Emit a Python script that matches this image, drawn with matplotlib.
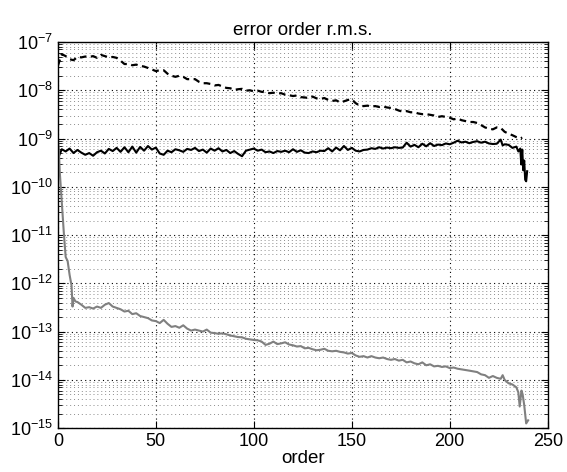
import numpy as np
import matplotlib
matplotlib.use("Agg")
import matplotlib.pyplot as plt
from matplotlib.ticker import FixedLocator, LogLocator, NullFormatter, MultipleLocator

plt.rcParams['font.family'] = ['Liberation Sans', 'DejaVu Sans']
plt.rcParams['mathtext.fontset'] = 'custom'
plt.rcParams['mathtext.rm'] = 'Liberation Sans'
plt.rcParams['mathtext.it'] = 'Liberation Sans:italic'

# dashed black curve
order_dash = [0, 2, 4, 6, 8, 10, 12, 14, 16, 18, 20, 22, 24, 26, 28, 30, 32, 34, 36, 38,
              40, 42, 44, 46, 48, 50, 52, 54, 56, 58, 60, 62, 64, 66, 68, 70, 72, 74, 76, 78,
              80, 82, 84, 86, 88, 90, 92, 94, 96, 98, 100, 102, 104, 106, 108, 110, 112, 114, 116, 118,
              120, 122, 124, 126, 128, 130, 132, 134, 136, 138, 140, 142, 144, 146, 148, 150, 152, 154, 156, 158,
              160, 162, 164, 166, 168, 170, 172, 174, 176, 178, 180, 182, 184, 186, 188, 190, 192, 194, 196, 198,
              200, 202, 204, 206, 208, 210, 212, 214, 216, 218, 220, 222, 224, 226, 228, 230, 232, 234, 236, 237]
err_dash = [3.2e-8, 5.6e-8, 5.1e-8, 4.4e-8, 4.2e-8, 4.9e-8, 4.8e-8, 5.0e-8, 4.9e-8, 5.1e-8,
            4.7e-8, 5.4e-8, 5.1e-8, 4.8e-8, 4.9e-8, 4.7e-8, 4.1e-8, 3.5e-8, 3.5e-8, 3.3e-8,
            3.4e-8, 3.2e-8, 3.1e-8, 2.9e-8, 2.7e-8, 2.5e-8, 2.6e-8, 2.6e-8, 2.2e-8, 2.0e-8,
            1.9e-8, 2.0e-8, 1.9e-8, 1.7e-8, 1.7e-8, 1.7e-8, 1.5e-8, 1.4e-8, 1.4e-8, 1.35e-8,
            1.26e-8, 1.29e-8, 1.2e-8, 1.12e-8, 1.1e-8, 1.02e-8, 1.05e-8, 1.07e-8, 9.8e-9, 1.0e-8,
            9.5e-9, 9.8e-9, 9.3e-9, 9.1e-9, 8.7e-9, 8.9e-9, 8.5e-9, 8.7e-9, 8.1e-9, 7.9e-9,
            7.6e-9, 7.8e-9, 7.2e-9, 7.1e-9, 6.9e-9, 7.4e-9, 6.8e-9, 6.6e-9, 6.9e-9, 6.3e-9,
            6.0e-9, 6.2e-9, 5.6e-9, 5.9e-9, 6.3e-9, 6.5e-9, 5.4e-9, 4.8e-9, 4.7e-9, 4.8e-9,
            4.6e-9, 4.7e-9, 4.5e-9, 4.6e-9, 4.4e-9, 4.3e-9, 4.1e-9, 3.8e-9, 3.6e-9, 3.7e-9,
            3.5e-9, 3.5e-9, 3.3e-9, 3.2e-9, 3.2e-9, 3.1e-9, 3.0e-9, 2.8e-9, 2.9e-9, 2.8e-9,
            2.7e-9, 2.5e-9, 2.6e-9, 2.4e-9, 2.3e-9, 2.2e-9, 2.2e-9, 2.1e-9, 1.9e-9, 1.7e-9,
            1.6e-9, 1.55e-9, 1.7e-9, 1.66e-9, 1.38e-9, 1.26e-9, 1.17e-9, 1.07e-9, 1.0e-9, 1.05e-9]

# solid black curve
order_solid = [0, 2, 4, 6, 8, 10, 12, 14, 16, 18, 20, 22, 24, 26, 28, 30, 32, 34, 36, 38,
               40, 42, 44, 46, 48, 50, 52, 54, 56, 58, 60, 62, 64, 66, 68, 70, 72, 74, 76, 78,
               80, 82, 84, 86, 88, 90, 92, 94, 96, 98, 100, 102, 104, 106, 108, 110, 112, 114, 116, 118,
               120, 122, 124, 126, 128, 130, 132, 134, 136, 138, 140, 142, 144, 146, 148, 150, 152, 154, 156, 158,
               160, 162, 164, 166, 168, 170, 172, 174, 176, 178, 180, 182, 184, 186, 188, 190, 192, 194, 196, 198,
               200, 202, 204, 206, 208, 210, 212, 214, 216, 218, 220, 222, 224, 226, 227, 228, 230, 232, 234, 235,
               236, 236.5, 237, 237.5, 238, 238.5, 239, 239.5]
err_solid = [3.8e-10, 6.0e-10, 5.4e-10, 6.2e-10, 5.0e-10, 5.8e-10, 5.1e-10, 4.6e-10, 5.0e-10, 4.4e-10,
             5.2e-10, 5.6e-10, 4.9e-10, 6.1e-10, 5.5e-10, 6.4e-10, 5.3e-10, 6.6e-10, 5.2e-10, 6.8e-10,
             5.1e-10, 6.7e-10, 5.6e-10, 7.0e-10, 5.9e-10, 6.5e-10, 4.9e-10, 4.6e-10, 5.6e-10, 5.2e-10,
             6.0e-10, 5.7e-10, 5.3e-10, 6.1e-10, 5.8e-10, 6.4e-10, 5.5e-10, 5.9e-10, 5.1e-10, 6.2e-10,
             5.6e-10, 6.3e-10, 5.4e-10, 5.8e-10, 5.0e-10, 5.5e-10, 4.8e-10, 4.3e-10, 5.6e-10, 5.9e-10,
             6.2e-10, 5.6e-10, 5.9e-10, 5.2e-10, 5.4e-10, 5.0e-10, 5.5e-10, 5.3e-10, 5.6e-10, 5.2e-10,
             6.0e-10, 5.3e-10, 5.7e-10, 5.1e-10, 5.0e-10, 5.4e-10, 5.2e-10, 5.6e-10, 5.5e-10, 6.3e-10,
             5.4e-10, 6.5e-10, 5.7e-10, 7.0e-10, 5.8e-10, 6.4e-10, 5.6e-10, 5.4e-10, 5.8e-10, 5.9e-10,
             6.3e-10, 6.1e-10, 6.6e-10, 6.2e-10, 6.5e-10, 6.3e-10, 6.6e-10, 6.4e-10, 6.5e-10, 8.2e-10,
             6.8e-10, 7.4e-10, 6.6e-10, 7.8e-10, 6.9e-10, 8.0e-10, 7.0e-10, 7.5e-10, 7.3e-10, 7.9e-10,
             7.6e-10, 8.2e-10, 9.0e-10, 8.3e-10, 8.6e-10, 8.0e-10, 8.5e-10, 8.8e-10, 8.2e-10, 8.6e-10,
             7.9e-10, 7.7e-10, 7.8e-10, 9.5e-10, 7.2e-10, 7.6e-10, 7.4e-10, 6.4e-10, 6.8e-10, 5.4e-10,
             6.2e-10, 2.9e-10, 5.9e-10, 2.2e-10, 3.5e-10, 1.4e-10, 1.3e-10, 2.1e-10]

# gray curve
order_gray = [0, 0.5, 1, 2, 3, 4, 5, 6, 7, 7.5, 8, 9, 10, 12, 14, 16, 18, 20, 22, 24,
              26, 28, 30, 32, 34, 36, 38, 40, 42, 44, 46, 48, 50, 52, 54, 56, 58, 60, 62, 64,
              66, 68, 70, 72, 74, 76, 78, 80, 82, 84, 86, 88, 90, 92, 94, 96, 98, 100, 102, 104,
              106, 108, 110, 112, 114, 116, 118, 120, 122, 124, 126, 128, 130, 132, 134, 136, 138, 140, 142, 144,
              146, 148, 150, 152, 154, 156, 158, 160, 162, 164, 166, 168, 170, 172, 174, 176, 178, 180, 182, 184,
              186, 188, 190, 192, 194, 196, 198, 200, 202, 204, 206, 208, 210, 212, 214, 216, 218, 220, 222, 224,
              226, 227, 228, 230, 232, 234, 235, 235.7, 236.6, 237.2, 238, 239, 240]
err_gray = [1.0e-9, 6.0e-10, 2.0e-10, 5.0e-11, 1.2e-11, 3.5e-12, 2.9e-12, 1.5e-12, 9.0e-13, 3.3e-13,
            5.0e-13, 4.2e-13, 4.1e-13, 3.6e-13, 3.1e-13, 3.2e-13, 3.0e-13, 3.3e-13, 3.1e-13, 3.6e-13,
            3.9e-13, 3.3e-13, 3.1e-13, 2.9e-13, 2.6e-13, 2.7e-13, 2.3e-13, 2.4e-13, 2.1e-13, 2.0e-13,
            1.9e-13, 1.7e-13, 1.65e-13, 1.5e-13, 1.75e-13, 1.45e-13, 1.25e-13, 1.3e-13, 1.2e-13, 1.35e-13,
            1.15e-13, 1.05e-13, 1.1e-13, 1.05e-13, 1.0e-13, 1.1e-13, 9.5e-14, 9.3e-14, 9.0e-14, 9.2e-14,
            8.8e-14, 8.3e-14, 8.0e-14, 7.7e-14, 7.6e-14, 7.1e-14, 6.9e-14, 6.7e-14, 6.6e-14, 6.2e-14,
            5.3e-14, 5.6e-14, 6.2e-14, 5.5e-14, 5.7e-14, 6.0e-14, 5.4e-14, 5.2e-14, 4.9e-14, 5.0e-14,
            4.5e-14, 4.6e-14, 4.3e-14, 4.1e-14, 4.2e-14, 4.4e-14, 4.0e-14, 3.9e-14, 4.0e-14, 3.8e-14,
            3.7e-14, 3.5e-14, 3.6e-14, 3.2e-14, 3.0e-14, 3.1e-14, 2.9e-14, 3.1e-14, 2.9e-14, 2.8e-14,
            2.9e-14, 2.7e-14, 2.6e-14, 2.7e-14, 2.5e-14, 2.6e-14, 2.3e-14, 2.4e-14, 2.2e-14, 2.1e-14,
            2.3e-14, 2.0e-14, 2.1e-14, 1.9e-14, 1.95e-14, 1.85e-14, 1.9e-14, 1.75e-14, 1.8e-14, 1.7e-14,
            1.65e-14, 1.6e-14, 1.55e-14, 1.5e-14, 1.45e-14, 1.3e-14, 1.25e-14, 1.1e-14, 1.2e-14, 1.1e-14,
            1.05e-14, 1.25e-14, 1.0e-14, 8.5e-15, 8.0e-15, 7.0e-15, 5.5e-15, 2.8e-15, 6.0e-15, 5.0e-15,
            3.0e-15, 1.25e-15, 1.45e-15]

y_ticks = [1e-15, 1e-14, 1e-13, 1e-12, 1e-11, 1e-10, 1e-9, 1e-8, 1e-7]

fig = plt.figure(figsize=(5.67, 4.72), dpi=100)
ax = fig.add_axes([0.102, 0.093, 0.864, 0.818])

ax.semilogy(order_dash, err_dash, color='black', linestyle=(0, (3, 2)), lw=1.6)
ax.semilogy(order_solid, err_solid, color='black', lw=1.5)
ax.semilogy(order_gray, err_gray, color='#808080', lw=1.5)

ax.set_xlim(0, 250)
ax.set_ylim(1e-15, 1e-7)
ax.xaxis.set_major_locator(MultipleLocator(50))
ax.yaxis.set_major_locator(FixedLocator(y_ticks))
ax.yaxis.set_minor_locator(LogLocator(base=10, subs=np.arange(2, 10), numticks=20))
ax.yaxis.set_minor_formatter(NullFormatter())

ax.grid(True, which='major', linestyle=(0, (1, 3)), color='black', lw=0.8)
ax.grid(True, which='minor', axis='y', linestyle=(0, (1, 3)), color='#8c8c8c', lw=0.7)

ax.tick_params(which='both', direction='in', top=True, right=True, labelsize=13)
ax.tick_params(which='major', length=5)
ax.tick_params(which='minor', length=3)
for s in ax.spines.values():
    s.set_linewidth(1.0)

ax.set_title('error order r.m.s.', fontsize=13.5, pad=5)
ax.set_xlabel('order', fontsize=13.5, labelpad=0)

fig.savefig('out.png', dpi=100)
